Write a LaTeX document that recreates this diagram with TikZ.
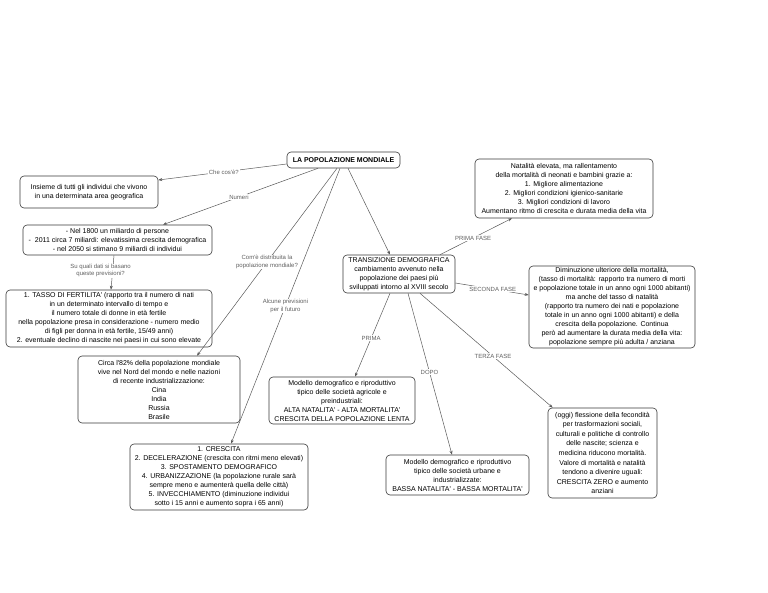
\documentclass[tikz,border=0pt]{standalone}
\usepackage{fontspec}
\setmainfont{Liberation Sans}[Ligatures=TeXOff]
\usetikzlibrary{arrows.meta}
\definecolor{edgecol}{HTML}{5A5A5A}
\definecolor{lbltxt}{HTML}{606060}
\definecolor{boxline}{HTML}{3A3A3A}
\begin{document}
\begin{tikzpicture}[x=1pt,y=-1pt,
  box/.style={draw=boxline, line width=0.6pt, rounded corners=4pt, align=center,
    font=\fontsize{7}{9}\selectfont, inner sep=1.2pt, fill=white},
  lbl/.style={font=\fontsize{6}{7.2}\selectfont, text=lbltxt, fill=white,
    inner sep=0.8pt, align=center},
  conn/.style={draw=edgecol, line width=0.5pt, -{Stealth[length=4pt,width=3pt]}},
]
\useasboundingbox (0,0) rectangle (768,593);

% nodes
\node[box, minimum width=113pt, minimum height=16pt] (title) at (343.5,160)
  {\textbf{LA POPOLAZIONE MONDIALE}};
\node[box, minimum width=138pt, minimum height=32pt] (insieme) at (89,192)
  {Insieme di tutti gli individui che vivono\\in una determinata area geografica};
\node[box, minimum width=178pt, minimum height=59pt] (natalita) at (564,188.5)
  {Natalità elevata, ma rallentamento\\della mortalità di neonati e bambini grazie a:\\1. Migliore alimentazione\\2. Migliori condizioni igienico-sanitarie\\3. Migliori condizioni di lavoro\\Aumentano ritmo di crescita e durata media della vita};
\node[box, minimum width=189pt, minimum height=30pt] (nel) at (117.5,240)
  {- Nel 1800 un miliardo di persone\\-\ \ 2011 circa 7 miliardi: elevatissima crescita demografica\\- nel 2050 si stimano 9 miliardi di individui};
\node[box, minimum width=206pt, minimum height=57pt] (tasso) at (109,318.5)
  {1. TASSO DI FERTILITA' (rapporto tra il numero di nati\\in un determinato intervallo di tempo e\\il numero totale di donne in età fertile\\nella popolazione presa in considerazione - numero medio\\di figli per donna in età fertile, 15/49 anni)\\2. eventuale declino di nascite nei paesi in cui sono elevate};
\node[box, minimum width=112pt, minimum height=38pt] (trans) at (399,274)
  {TRANSIZIONE DEMOGRAFICA\\cambiamento avvenuto nella\\popolazione dei paesi più\\sviluppati intorno al XVIII secolo};
\node[box, minimum width=166pt, minimum height=82pt] (dimin) at (612,307)
  {Diminuzione ulteriore della mortalità,\\(tasso di mortalità: rapporto tra numero di morti\\e popolazione totale in un anno ogni 1000 abitanti)\\ma anche del tasso di natalità\\(rapporto tra numero dei nati e popolazione\\totale in un anno ogni 1000 abitanti) e della\\crescita della popolazione. Continua\\però ad aumentare la durata media della vita:\\popolazione sempre più adulta / anziana};
\node[box, minimum width=162pt, minimum height=67pt] (circa) at (159,389.5)
  {Circa l'82\% della popolazione mondiale\\vive nel Nord del mondo e nelle nazioni\\di recente industrializzazione:\\Cina\\India\\Russia\\Brasile};
\node[box, minimum width=146pt, minimum height=47pt] (mod1) at (342,400.5)
  {Modello demografico e riproduttivo\\tipico delle società agricole e\\preindustriali:\\ALTA NATALITA' - ALTA MORTALITA'\\CRESCITA DELLA POPOLAZIONE LENTA};
\node[box, minimum width=178pt, minimum height=66pt] (cresc) at (219,477)
  {1. CRESCITA\\2. DECELERAZIONE (crescita con ritmi meno elevati)\\3. SPOSTAMENTO DEMOGRAFICO\\4. URBANIZZAZIONE (la popolazione rurale sarà\\sempre meno e aumenterà quella delle città)\\5. INVECCHIAMENTO (diminuzione individui\\sotto i 15 anni e aumento sopra i 65 anni)};
\node[box, minimum width=143pt, minimum height=40pt] (mod2) at (457.5,475)
  {Modello demografico e riproduttivo\\tipico delle società urbane e\\industrializzate:\\BASSA NATALITA' - BASSA MORTALITA'};
\node[box, minimum width=109pt, minimum height=90pt, font=\fontsize{7}{9.6}\selectfont] (oggi) at (602.5,453)
  {(oggi) flessione della fecondità\\per trasformazioni sociali,\\culturali e politiche di controllo\\delle nascite; scienza e\\medicina riducono mortalità.\\Valore di mortalità e natalità\\tendono a divenire uguali:\\CRESCITA ZERO e aumento\\anziani};

% connectors
\draw[conn] ([yshift=-4pt]title.west) -- node[lbl, pos=0.49] {Che cos'è?} ([yshift=12pt]insieme.east);
\draw[conn] ([xshift=-25.5pt]title.south) -- node[lbl, pos=0.51] {Numeri} ([xshift=45.5pt]nel.north);
\draw[conn] ([xshift=-6.5pt]title.south) -- node[lbl, pos=0.5] {Com'è distribuita la\\popolazione mondiale?} ([xshift=38pt]circa.north);
\draw[conn] ([xshift=-3.5pt]title.south) -- node[lbl, pos=0.5] {Alcune previsioni\\per il futuro} ([xshift=12pt]cresc.north);
\draw[conn] ([xshift=4.5pt]title.south) -- ([xshift=-9pt]trans.north);
\draw[conn] ([xshift=-3.5pt]nel.south) -- node[lbl, pos=0.45, xshift=-12pt] {Su quali dati si basano\\queste previsioni?} ([xshift=2pt]tasso.north);
\draw[conn] ([xshift=41pt]trans.north) -- node[lbl, pos=0.46] {PRIMA FASE} ([xshift=-52pt]natalita.south);
\draw[conn] ([yshift=-9pt]trans.east) -- node[lbl, pos=0.51] {SECONDA FASE} ([yshift=12pt]dimin.west);
\draw[conn] ([xshift=-9pt]trans.south) -- node[lbl, pos=0.54] {PRIMA} ([xshift=13pt]mod1.north);
\draw[conn] ([xshift=9pt]trans.south) -- node[lbl, pos=0.49] {DOPO} ([xshift=-5.5pt]mod2.north);
\draw[conn] ([xshift=21pt]trans.south) -- node[lbl, pos=0.55] {TERZA FASE} ([xshift=5pt]oggi.north west);
\end{tikzpicture}
\end{document}
